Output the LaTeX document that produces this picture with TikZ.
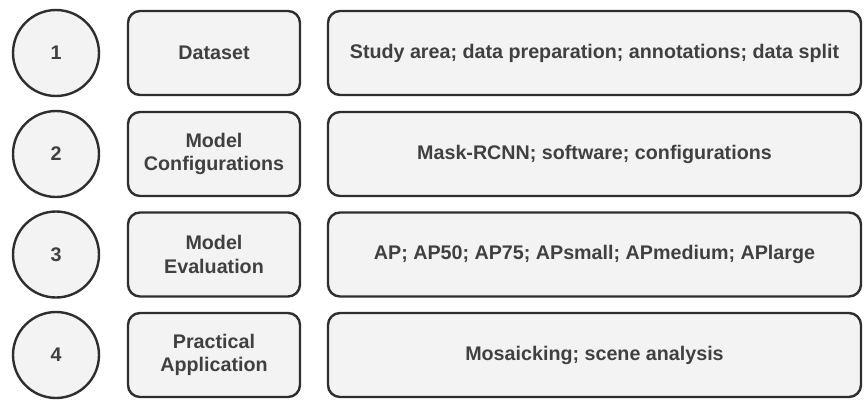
\documentclass[tikz,border=0pt]{standalone}
\usepackage{fontspec}
\setmainfont{Liberation Sans}
\definecolor{linec}{HTML}{2E2E2E}
\definecolor{boxfill}{HTML}{F3F3F3}
\definecolor{txt}{HTML}{404040}
\begin{document}
\begin{tikzpicture}[x=1pt,y=-1pt,
  every node/.style={font=\fontsize{19.7}{23.5}\selectfont\bfseries, text=txt},
  stage/.style={circle, draw=linec, fill=boxfill, line width=2.4pt,
    minimum size=86pt, inner sep=0pt},
  titlebox/.style={draw=linec, fill=boxfill, line width=2.4pt,
    rounded corners=12pt, minimum width=172pt, minimum height=84pt,
    inner sep=0pt, align=center},
  detailbox/.style={titlebox, minimum width=533pt}]
\useasboundingbox (0,0) rectangle (864,399);

% step numbers
\node[stage] (c1) at (56,53)    {1};
\node[stage] (c2) at (56,154)   {2};
\node[stage] (c3) at (56,254.5) {3};
\node[stage] (c4) at (56,355)   {4};

% stage titles
\node[titlebox] (t1) at (214,53)    {Dataset};
\node[titlebox] (t2) at (214,154)   {Model\\Configurations};
\node[titlebox] (t3) at (214,254.5) {Model\\Evaluation};
\node[titlebox] (t4) at (214,355)   {Practical\\Application};

% stage contents
\node[detailbox] (d1) at (594.5,53)    {Study area; data preparation; annotations; data split};
\node[detailbox] (d2) at (594.5,154)   {Mask-RCNN; software; configurations};
\node[detailbox] (d3) at (594.5,254.5) {AP; AP50; AP75; APsmall; APmedium; APlarge};
\node[detailbox] (d4) at (594.5,355)   {Mosaicking; scene analysis};
\end{tikzpicture}
\end{document}
